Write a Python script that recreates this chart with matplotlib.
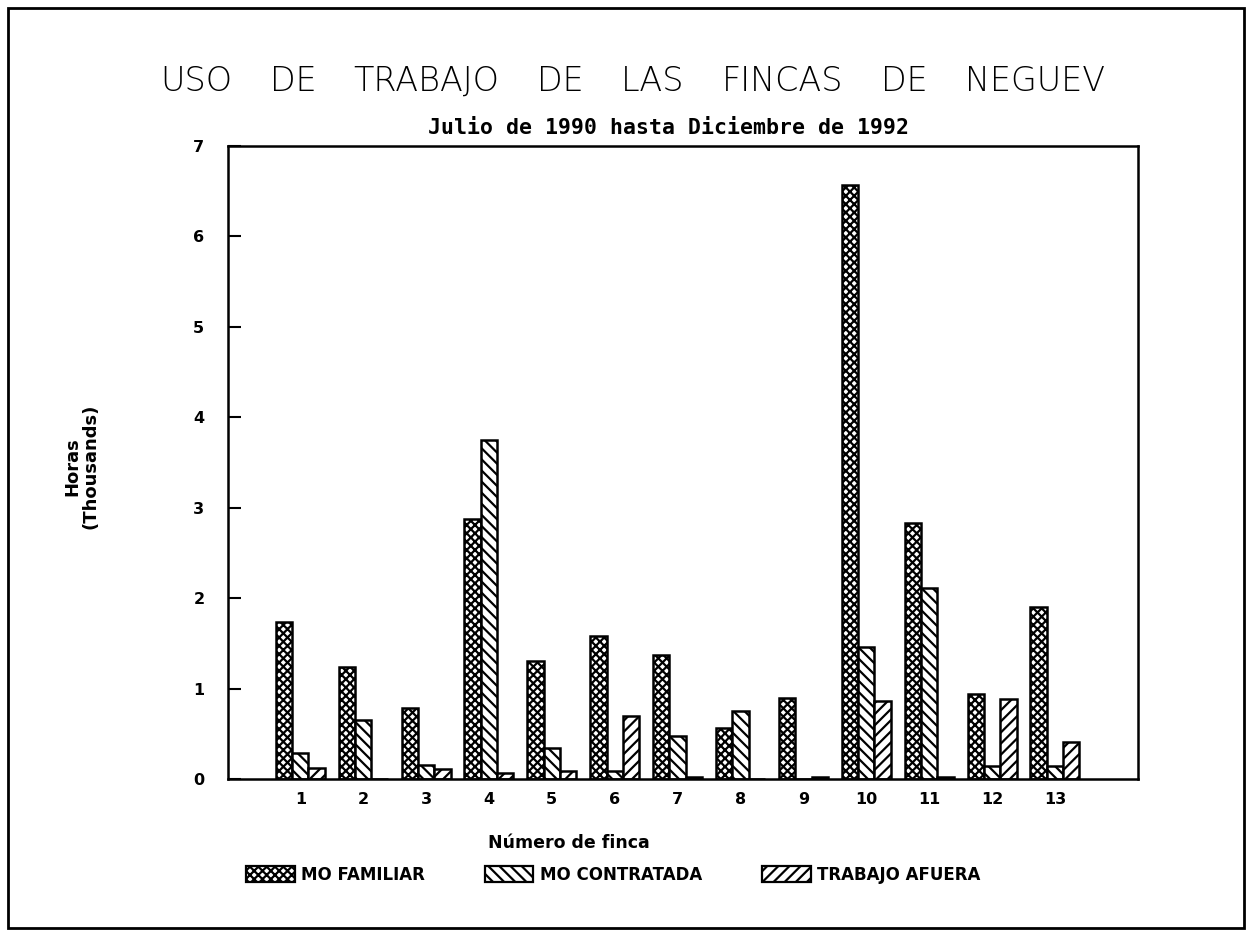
import numpy as np
import matplotlib
matplotlib.use("Agg")
import matplotlib.pyplot as plt
from matplotlib.patches import Patch, Rectangle

# data (thousands of hours)
fincas = [str(i) for i in range(1, 14)]
mo_familiar = [1.74, 1.24, 0.78, 2.88, 1.30, 1.58, 1.37, 0.56, 0.90, 6.57, 2.83, 0.94, 1.90]
mo_contratada = [0.29, 0.65, 0.15, 3.75, 0.34, 0.09, 0.48, 0.75, 0.0, 1.46, 2.11, 0.14, 0.14]
trabajo_afuera = [0.12, 0.0, 0.11, 0.07, 0.09, 0.70, 0.02, 0.0, 0.02, 0.86, 0.02, 0.89, 0.41]

series_names = ["MO FAMILIAR", "MO CONTRATADA", "TRABAJO AFUERA"]
hatches = ["xxxx", "\\\\\\", "///"]
title = "USO DE TRABAJO DE LAS FINCAS DE NEGUEV"

plt.rcParams["hatch.linewidth"] = 1.6
plt.rcParams["font.family"] = "DejaVu Sans"

W, H = 1252, 936
fig = plt.figure(figsize=(W / 100, H / 100), dpi=100)
ax = fig.add_axes([0.1821, 0.1677, 0.7268, 0.6763])

x = np.arange(1, len(fincas) + 1)
w = 0.26
for k, (vals, h) in enumerate(zip([mo_familiar, mo_contratada, trabajo_afuera], hatches)):
    ax.bar(x + (k - 1) * w, vals, width=w, facecolor="white", edgecolor="black",
           hatch=h, linewidth=1.8)

ax.set_xlim(-0.15, 14.32)
ax.set_ylim(0, 7)
ax.set_yticks(range(0, 8))
ax.set_xticks(x)
ax.set_xticklabels(fincas)
ax.tick_params(axis="x", length=0, pad=9, labelsize=11.5)
ax.tick_params(axis="y", direction="in", length=9, width=1.5, pad=17, labelsize=11.5)
for lab in ax.get_xticklabels() + ax.get_yticklabels():
    lab.set_fontweight("bold")
for s in ax.spines.values():
    s.set_linewidth(1.8)

# title: words spread across the same width as the original
words = title.split()
x0, x1 = 160, 1105
txts = [fig.text(0, 0.913, wd, ha="left", va="center", fontsize=24, fontweight="light")
        for wd in words]
fig.canvas.draw()
r = fig.canvas.get_renderer()
widths = [t.get_window_extent(r).width for t in txts]
gap = (x1 - x0 - sum(widths)) / (len(words) - 1)
pos = x0
for t, wd in zip(txts, widths):
    t.set_x(pos / W)
    pos += wd + gap

fig.text(0.534, 0.863, "Julio de 1990 hasta Diciembre de 1992", ha="center", va="center",
         fontsize=15.5, fontweight="bold", family="DejaVu Sans Mono")
fig.text(0.065, 0.502, "Horas\n(Thousands)", rotation=90, ha="center", va="center",
         multialignment="center", fontsize=13, fontweight="bold", linespacing=1.0)
fig.text(0.4545, 0.099, "Número de finca", ha="center", va="center",
         fontsize=12.5, fontweight="bold")

handles = [Patch(facecolor="white", edgecolor="black", hatch=h, linewidth=1.6, label=n)
           for h, n in zip(hatches, series_names)]
fig.legend(handles=handles, loc="center", bbox_to_anchor=(0.49, 0.065), ncol=3,
           frameon=False, handlelength=2.9, handleheight=1.1, handletextpad=0.4,
           columnspacing=3.6, prop={"size": 12, "weight": "bold"})

fig.patches.append(Rectangle((0.0064, 0.0085), 0.987, 0.983, transform=fig.transFigure,
                             fill=False, edgecolor="black", linewidth=2.0))

fig.savefig("out.png", dpi=100, facecolor="white")
